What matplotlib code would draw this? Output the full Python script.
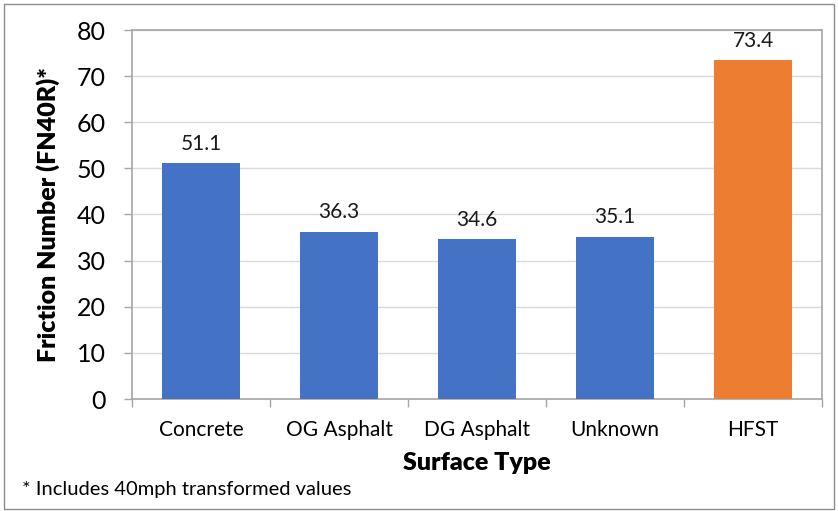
import matplotlib.pyplot as plt
from matplotlib.patches import Rectangle

plt.rcParams['font.family'] = ['Lato', 'DejaVu Sans']

surfaces = ['Concrete', 'OG Asphalt', 'DG Asphalt', 'Unknown', 'HFST']
friction = [51.1, 36.3, 34.6, 35.1, 73.4]
bar_colours = ['#4472C4', '#4472C4', '#4472C4', '#4472C4', '#ED7D31']

fig = plt.figure(figsize=(8.38, 5.11), dpi=100)
ax = fig.add_axes([132 / 838, 1 - 399 / 511, (822 - 132) / 838, (399 - 30) / 511])

x = range(len(surfaces))
bars = ax.bar(x, friction, width=0.57, color=bar_colours, zorder=3)
for rect, val in zip(bars, friction):
    ax.annotate(f'{val:.1f}', (rect.get_x() + rect.get_width() / 2, val),
                xytext=(0, 7), textcoords='offset points',
                ha='center', va='bottom', fontsize=15, color='#1a1a1a')

ax.set_xlim(-0.5, len(surfaces) - 0.5)
ax.set_ylim(0, 80)
ax.set_yticks(range(0, 81, 10))
ax.tick_params(axis='y', labelsize=18, length=6, color='#A6A6A6', width=1, pad=13)
ax.set_xticks(list(x))
ax.set_xticklabels(surfaces, fontsize=15)
ax.tick_params(axis='x', length=0, pad=15)
# category boundary ticks
ax.set_xticks([i - 0.5 for i in range(len(surfaces) + 1)], minor=True)
ax.tick_params(axis='x', which='minor', length=6, color='#A6A6A6', width=1)

ax.grid(axis='y', color='#D9D9D9', linewidth=1, zorder=0)
for s in ax.spines.values():
    s.set_color('#A6A6A6')
    s.set_linewidth(1.2)

ax.set_ylabel('Friction Number (FN40R)*', fontsize=18, fontweight='heavy', labelpad=12)
ax.set_xlabel('Surface Type', fontsize=18, fontweight='heavy', labelpad=9)

fig.text(22 / 838, 1 - 490 / 511, '* Includes 40mph transformed values',
         fontsize=14.5, va='center', ha='left')

fig.patches.append(Rectangle((4 / 838, 2 / 511), 830 / 838, 505 / 511,
                             transform=fig.transFigure, fill=False,
                             edgecolor='#8C8C8C', linewidth=1))

fig.savefig('out.png', dpi=100)
